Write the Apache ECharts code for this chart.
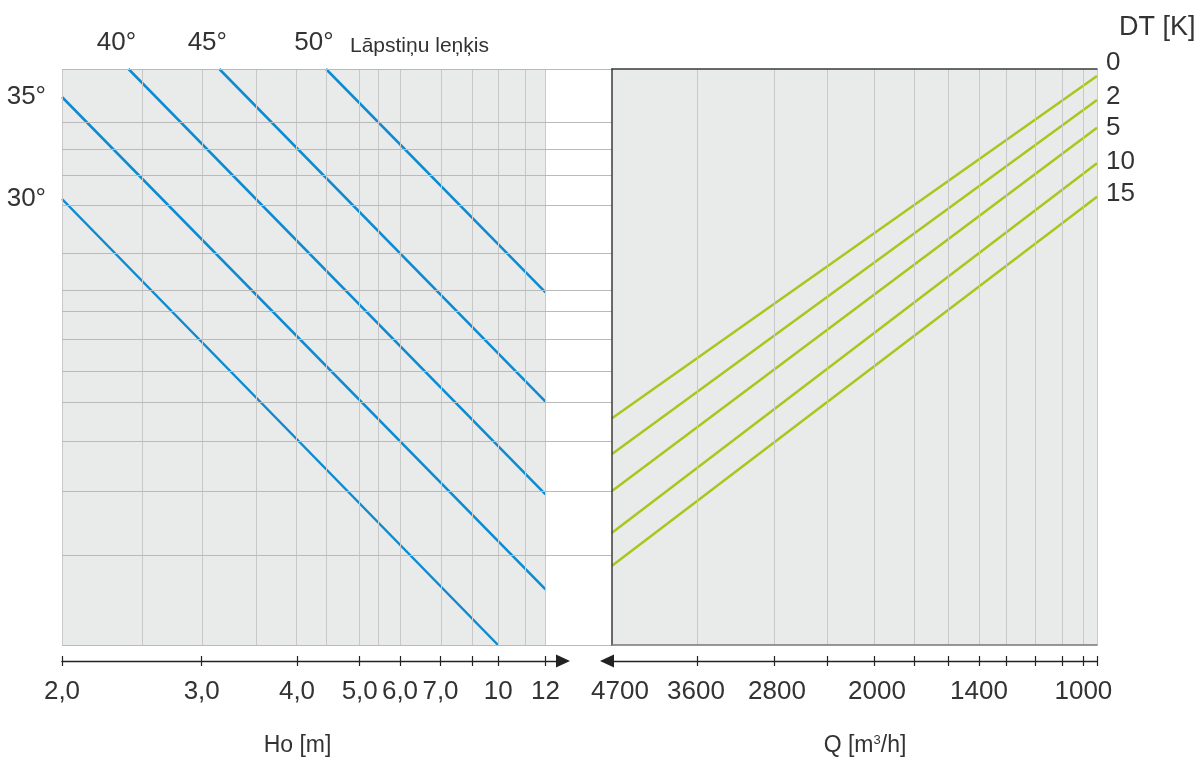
<!DOCTYPE html>
<html><head><meta charset="utf-8">
<script src="https://cdn.jsdelivr.net/npm/echarts@6/dist/echarts.min.js"></script>
<style>html,body{margin:0;padding:0;background:#fff}#chart{width:1204px;height:758px}</style>
</head><body><div id="chart"></div>
<script>
// Nomogram: both panels share one vertical scale (0 = bottom edge .. 576 = top edge).
// Horizontal scales are the nomogram's own (non-standard) position scales.

// Blade-angle lines (left panel)
const angleLabels = ['30°', '35°', '40°', '45°', '50°'];
const angleStartX = [0, 0, 66.5, 157.3, 264];
const angleStartY = [446, 548, 576, 576, 576];
const angleEndX   = [436, 483.5, 483.5, 483.5, 483.5];
const angleEndY   = [0, 55.7, 150.7, 243.3, 352.7];

// DT lines (right panel)
const dtLabels  = ['0', '2', '5', '10', '15'];
const dtStartY  = [226.7, 191, 154, 112.3, 79.3];
const dtEndY    = [569, 545, 517.3, 481.7, 448.3];

// Ho axis (left)
const hoTickPos  = [0, 139.7, 235, 297.7, 338, 378.5, 410.6, 436.3, 483.5];
const hoLabelPos = [0, 139.7, 235, 297.7, 338, 378.5, 436.3, 483.5];
const hoLabels   = ['2,0', '3,0', '4,0', '5,0', '6,0', '7,0', '10', '12'];
const hoGridPos  = [0, 80, 140, 194.4, 234.7, 264.6, 297.6, 316.7, 338, 379, 410.5, 436.2, 463.3, 483.5];

// Q axis (right, decreasing to the right)
const qTickPos  = [85.4, 161.8, 215.5, 262.5, 302.3, 336.5, 367, 394, 423.6, 450.3, 471.4, 485];
const qLabelPos = [8, 84, 165, 265, 367, 471.4];
const qLabels   = ['4700', '3600', '2800', '2000', '1400', '1000'];

// Shared horizontal grid lines
const nomoGridY = [0, 89.7, 153.3, 203.7, 242.3, 273.3, 305.7, 333.7, 354.7, 391.7, 439.7, 470, 495.3, 523, 576];

// ---- styles ----
const FONT = '"Liberation Sans", Arial, sans-serif';
const TXT = '#333333';
const BLUE = '#0d8bd1';
const GREEN = '#a8c61c';
const dtLabelNudge = [-13, -3, 0, -1, -3];

const chart = echarts.init(document.getElementById('chart'), null, { renderer: 'canvas' });

function pick(posArr, labArr) {
  return function (v) {
    const i = posArr.findIndex(p => Math.abs(p - v) < 1e-6);
    return i >= 0 ? labArr[i] : '';
  };
}
const gridBase = { top: 69, height: 576, containLabel: false, outerBoundsMode: 'none' };
const hid = (g, min, max) => ({ gridIndex: g, type: 'value', min: min, max: max, show: false });
const noParts = { axisTick: { show: false }, axisLabel: { show: false }, splitLine: { show: false } };
const tickLabelStyle = { fontSize: 26, color: TXT, fontFamily: FONT, margin: 18 };
const mlBase = { silent: true, symbol: ['none', 'none'], animation: false, label: { show: false }, emphasis: { disabled: true } };

const series = [];
// left panel vertical grid lines
series.push({ type: 'line', xAxisIndex: 0, yAxisIndex: 0, data: [], silent: true, z: 1,
  markLine: Object.assign({}, mlBase, { lineStyle: { type: 'solid', color: '#c8c8c8', width: 1 },
    data: hoGridPos.map(v => ({ xAxis: v })) }) });
// shared horizontal grid lines (left panel + gap)
series.push({ type: 'line', xAxisIndex: 1, yAxisIndex: 1, data: [], silent: true, z: 1,
  markLine: Object.assign({}, mlBase, { lineStyle: { type: 'solid', color: '#bababa', width: 1 },
    data: nomoGridY.map(v => ({ yAxis: v })) }) });
// right panel vertical grid lines
series.push({ type: 'line', xAxisIndex: 4, yAxisIndex: 3, data: [], silent: true, z: 1,
  markLine: Object.assign({}, mlBase, { lineStyle: { type: 'solid', color: '#c8c8c8', width: 1 },
    data: qTickPos.map(v => ({ xAxis: v })) }) });

// angle lines
angleLabels.forEach((name, i) => {
  series.push({ type: 'line', name: name, xAxisIndex: 0, yAxisIndex: 0, symbol: 'none', silent: true, z: 3,
    lineStyle: { color: BLUE, width: 2.5 },
    data: [[angleStartX[i], angleStartY[i]], [angleEndX[i], angleEndY[i]]] });
});
// DT lines
dtLabels.forEach((name, i) => {
  series.push({ type: 'line', name: 'DT ' + name, xAxisIndex: 4, yAxisIndex: 3, symbol: 'none', silent: true, z: 3,
    lineStyle: { color: GREEN, width: 2.5 },
    data: [[0, dtStartY[i]], [485, dtEndY[i]]] });
});

const lblText = { fontSize: 26, color: TXT, fontFamily: FONT, opacity: 1 };
// angle labels at the start of each line
series.push({ type: 'scatter', xAxisIndex: 0, yAxisIndex: 0, symbolSize: 0, clip: false, silent: true, z: 4,
  itemStyle: { opacity: 1 },
  data: angleLabels.map((name, i) => ({
    name: name, value: [angleStartX[i], angleStartY[i]],
    label: angleStartX[i] === 0
      ? { show: true, position: 'left', distance: 16, formatter: '{b}', ...lblText }
      : { show: true, position: 'top', distance: 13, offset: [-12, 0], formatter: '{b}', ...lblText }
  })) });
// DT labels at the end of each line
series.push({ type: 'scatter', xAxisIndex: 4, yAxisIndex: 3, symbolSize: 0, clip: false, silent: true, z: 4,
  itemStyle: { opacity: 1 },
  data: dtLabels.map((name, i) => ({
    name: name, value: [485, dtEndY[i]],
    label: { show: true, position: 'right', distance: 9, offset: [0, dtLabelNudge[i]], formatter: '{b}', ...lblText }
  })) });

const axisLineL = { show: true, onZero: false, symbol: ['none', 'triangle'], symbolSize: [13, 14], lineStyle: { color: '#222', width: 1.3 } };
const axisLineR = { show: true, onZero: false, symbol: ['triangle', 'none'], symbolSize: [13, 14], lineStyle: { color: '#222', width: 1.3 } };

const option = {
  animation: false,
  backgroundColor: '#ffffff',
  textStyle: { fontFamily: FONT },
  grid: [
    Object.assign({}, gridBase, { left: 62, width: 483.5, show: true, backgroundColor: '#e9eaea', borderWidth: 0 }),
    Object.assign({}, gridBase, { left: 62, width: 550 }),
    Object.assign({}, gridBase, { left: 62, width: 501 }),
    Object.assign({}, gridBase, { left: 612, width: 485, show: true, backgroundColor: '#e9eaea', borderWidth: 0 }),
    Object.assign({}, gridBase, { left: 607, width: 490 })
  ],
  xAxis: [
    hid(0, 0, 483.5),
    hid(1, 0, 550),
    { gridIndex: 2, type: 'value', min: 0, max: 501, position: 'bottom', offset: 16, z: 5,
      axisLine: axisLineL,
      axisTick: { show: true, customValues: hoTickPos, length: 5, inside: false, lineStyle: { color: '#222', width: 1.2 } },
      axisLabel: Object.assign({ show: true, customValues: hoLabelPos, formatter: pick(hoLabelPos, hoLabels) }, tickLabelStyle),
      splitLine: { show: false },
      name: 'Ho [m]', nameLocation: 'middle', nameGap: 73,
      nameTextStyle: { fontSize: 23, color: TXT, fontFamily: FONT, padding: [0, 30, 0, 0] } },
    { gridIndex: 2, type: 'value', min: 0, max: 501, position: 'bottom', offset: 16, z: 5,
      axisLine: { show: false, onZero: false },
      axisTick: { show: true, customValues: hoTickPos, length: 5, inside: true, lineStyle: { color: '#222', width: 1.2 } },
      axisLabel: { show: false }, splitLine: { show: false } },
    Object.assign({ gridIndex: 3, type: 'value', min: 0, max: 485, position: 'top', z: 5,
      axisLine: { show: true, onZero: false, lineStyle: { color: '#3a3a3a', width: 1.5 } } }, noParts),
    Object.assign({ gridIndex: 3, type: 'value', min: 0, max: 485, position: 'bottom', z: 5,
      axisLine: { show: true, onZero: false, lineStyle: { color: '#777777', width: 1.5 } } }, noParts),
    { gridIndex: 4, type: 'value', min: -5, max: 485, position: 'bottom', offset: 16, z: 5,
      axisLine: axisLineR,
      axisTick: { show: true, customValues: qTickPos, length: 5, inside: false, lineStyle: { color: '#222', width: 1.2 } },
      axisLabel: Object.assign({ show: true, customValues: qLabelPos, formatter: pick(qLabelPos, qLabels) }, tickLabelStyle),
      splitLine: { show: false },
      name: 'Q [m{s|3}/h]', nameLocation: 'middle', nameGap: 73,
      nameTextStyle: { fontSize: 23, color: TXT, fontFamily: FONT, padding: [0, 0, 0, 26],
        rich: { s: { fontSize: 13, color: TXT, fontFamily: FONT, verticalAlign: 'top' } } } },
    { gridIndex: 4, type: 'value', min: -5, max: 485, position: 'bottom', offset: 16, z: 5,
      axisLine: { show: false, onZero: false },
      axisTick: { show: true, customValues: qTickPos, length: 5, inside: true, lineStyle: { color: '#222', width: 1.2 } },
      axisLabel: { show: false }, splitLine: { show: false } }
  ],
  yAxis: [
    hid(0, 0, 576),
    hid(1, 0, 576),
    hid(2, 0, 576),
    Object.assign({ gridIndex: 3, type: 'value', min: 0, max: 576, position: 'left', z: 5,
      axisLine: { show: true, onZero: false, lineStyle: { color: '#3a3a3a', width: 1.5 } } }, noParts),
    hid(4, 0, 576)
  ],
  graphic: [
    { type: 'text', x: 350, y: 46, silent: true,
      style: { text: 'Lāpstiņu leņķis', fontSize: 21, fontFamily: FONT, fill: TXT, align: 'left', verticalAlign: 'middle' } },
    { type: 'text', x: 1119, y: 28, silent: true,
      style: { text: 'DT [K]', fontSize: 27, fontFamily: FONT, fill: TXT, align: 'left', verticalAlign: 'middle' } }
  ],
  series: series
};
chart.setOption(option);
</script>
</body></html>
